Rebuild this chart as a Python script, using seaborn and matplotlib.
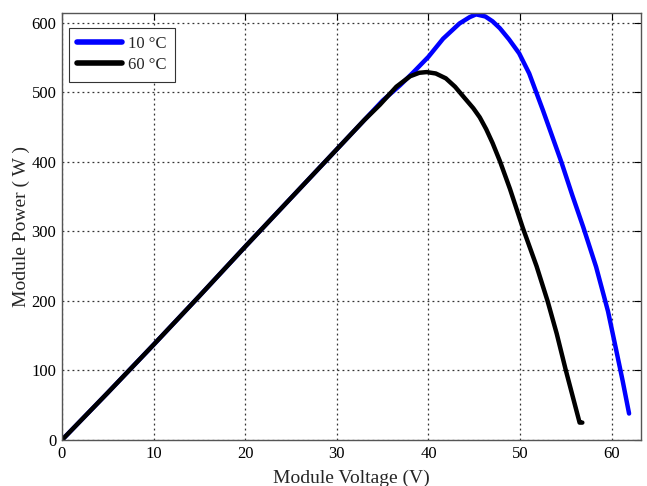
import matplotlib
matplotlib.use("Agg")
import matplotlib.pyplot as plt
import seaborn as sns
import pandas as pd

# 10 °C curve
v_10 = [0, 5, 10, 15, 20, 25, 30, 35, 36.9, 38.3, 40, 41.6, 43.4, 44.5, 45.2, 46.2, 47, 47.8,
        48.8, 49.9, 51, 52.5, 53.5, 54.5, 55.7, 56.9, 58.3, 59.6, 60.5, 61.2, 61.9]
p_10 = [0, 68, 137, 207, 278, 348, 418, 488, 510, 528, 551, 577, 599, 608, 612, 609, 602, 592,
        576, 556, 527, 474, 437, 400, 352, 306, 249, 185, 129, 85, 38]

# 60 °C curve
v_60 = [0, 5, 10, 15, 20, 25, 30, 33, 34.7, 36.5, 38, 39, 39.8, 40.8, 41.9, 42.9, 43.8, 44.9,
        45.6, 46.3, 47, 47.8, 48.9, 50.3, 51.8, 53, 54, 55, 56, 56.5, 56.8]
p_60 = [0, 68, 137, 207, 278, 348, 418, 460, 482, 508, 523, 528, 529, 527, 520, 508, 494, 477,
        464, 447, 427, 401, 361, 305, 250, 200, 153, 100, 50, 25, 25]

labels = ["10 °C", "60 °C"]
colors = ["#0000FF", "#000000"]
x_ticks = [0, 10, 20, 30, 40, 50, 60]
y_ticks = [0, 100, 200, 300, 400, 500, 600]

df = pd.concat([
    pd.DataFrame({"V": v_10, "P": p_10, "T": labels[0]}),
    pd.DataFrame({"V": v_60, "P": p_60, "T": labels[1]}),
], ignore_index=True)

sns.set_style("white")
plt.rcParams["font.family"] = ["Liberation Serif", "DejaVu Serif"]

fig = plt.figure(figsize=(6.47, 4.86), dpi=100)
ax = fig.add_axes([0.0958, 0.0947, 0.8949, 0.8786])

sns.lineplot(data=df, x="V", y="P", hue="T", palette=colors, sort=False,
             linewidth=3.2, ax=ax, estimator=None)
for ln in ax.get_lines():
    ln.set_solid_joinstyle("round")
    ln.set_solid_capstyle("round")

ax.set_xlim(0, 63.2)
ax.set_ylim(0, 614)
ax.set_xticks(x_ticks)
ax.set_yticks(y_ticks)
ax.tick_params(direction="in", top=True, right=True, length=5, width=0.8,
               labelsize=12, colors="#000000", pad=4)
for s in ax.spines.values():
    s.set_color("#555555")
    s.set_linewidth(1.0)
    s.set_visible(True)
ax.grid(True, linestyle=(0, (1.5, 2.5)), color="#333333", linewidth=0.9)

ax.set_xlabel("Module Voltage (V)", fontsize=14, labelpad=6)
ax.set_ylabel("Module Power ( W )", fontsize=14, labelpad=1)

leg = ax.legend(loc="upper left", bbox_to_anchor=(0.0121, 0.965), borderaxespad=0,
                frameon=True, fancybox=False, fontsize=12,
                handlelength=2.7, handletextpad=0.35, edgecolor="#333333",
                framealpha=1, borderpad=0.5, labelspacing=0.3)
leg.get_frame().set_linewidth(0.8)
for line in leg.get_lines():
    line.set_linewidth(4)

fig.savefig("out.png", dpi=100)
